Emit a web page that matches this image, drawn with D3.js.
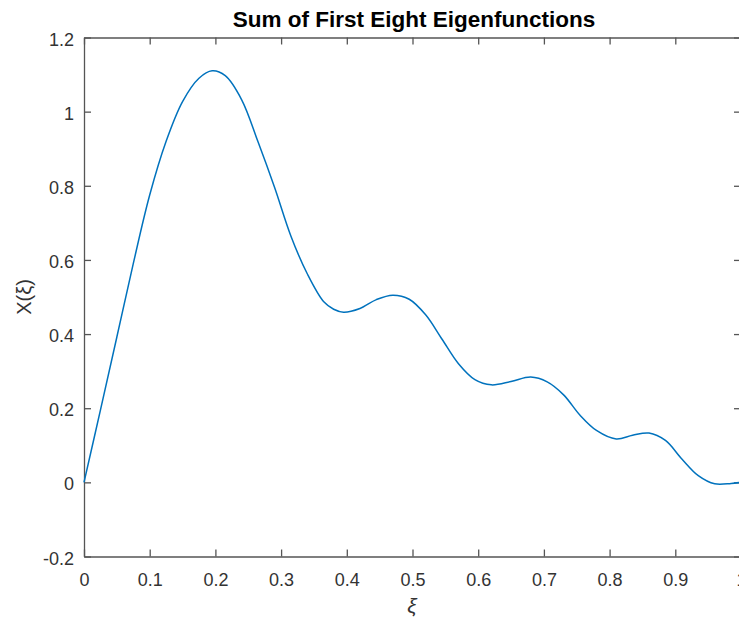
<!DOCTYPE html>
<html>
<head>
<meta charset="utf-8">
<script src="https://cdn.jsdelivr.net/npm/d3@7"></script>
<style>
  html, body { margin: 0; padding: 0; background: #fff; }
  svg { display: block; font-family: "Liberation Sans", Arial, sans-serif; }
</style>
</head>
<body>
<svg id="chart" width="739" height="623"></svg>
<script>
// values
const xiValues = [0, 0.025, 0.05, 0.075, 0.1, 0.125, 0.15, 0.175, 0.195, 0.215, 0.24, 0.265, 0.29, 0.315, 0.34,
  0.365, 0.38, 0.395, 0.42, 0.445, 0.47, 0.495, 0.52, 0.545, 0.57, 0.595, 0.62, 0.65, 0.68, 0.705, 0.73,
  0.755, 0.78, 0.81, 0.835, 0.86, 0.885, 0.91, 0.935, 0.96, 0.985, 1.0];
const xValues = [0, 0.195, 0.392, 0.59, 0.775, 0.92, 1.027, 1.09, 1.11, 1.097, 1.032, 0.918, 0.796, 0.664, 0.562,
  0.487, 0.467, 0.459, 0.469, 0.493, 0.505, 0.494, 0.452, 0.386, 0.32, 0.277, 0.263, 0.272, 0.284, 0.271, 0.236,
  0.181, 0.14, 0.117, 0.127, 0.133, 0.113, 0.063, 0.018, -0.004, -0.003, 0];
const xTicks = [0, 0.1, 0.2, 0.3, 0.4, 0.5, 0.6, 0.7, 0.8, 0.9, 1];
const yTicks = [-0.2, 0, 0.2, 0.4, 0.6, 0.8, 1, 1.2];

const svg = d3.select("#chart");
const plotLeft = 84, plotRight = 741, plotTop = 37.5, plotBottom = 556.5;
const axisColor = "#555";
const textColor = "#333";

const x = d3.scaleLinear().domain([0, 1]).range([plotLeft, plotRight]);
const y = d3.scaleLinear().domain([-0.2, 1.2]).range([plotBottom, plotTop]);

const fmt = d => (d === 0 ? "0" : String(+d.toFixed(1)));

// axes with inward ticks, box on all four sides
const gx = svg.append("g").attr("transform", `translate(0,${plotBottom})`)
  .call(d3.axisBottom(x).tickValues(xTicks).tickSizeInner(-7).tickSizeOuter(0).tickPadding(17).tickFormat(fmt));
const gxTop = svg.append("g").attr("transform", `translate(0,${plotTop})`)
  .call(d3.axisTop(x).tickValues(xTicks).tickSizeInner(-7).tickSizeOuter(0).tickFormat(""));
const gy = svg.append("g").attr("transform", `translate(${plotLeft},0)`)
  .call(d3.axisLeft(y).tickValues(yTicks).tickSizeInner(-7).tickSizeOuter(0).tickPadding(10).tickFormat(fmt));
const gyRight = svg.append("g").attr("transform", `translate(${plotRight},0)`)
  .call(d3.axisRight(y).tickValues(yTicks).tickSizeInner(-7).tickSizeOuter(0).tickFormat(""));

[gx, gxTop, gy, gyRight].forEach(g => {
  g.select(".domain").attr("stroke", axisColor).attr("stroke-width", 1.3);
  g.selectAll(".tick line").attr("stroke", axisColor).attr("stroke-width", 1.3);
  g.selectAll(".tick text").attr("fill", textColor).style("font-size", "18px")
    .style("font-family", "'Liberation Sans', Arial, sans-serif");
});
gy.selectAll(".tick text").attr("dy", "0.42em");

// curve
const pts = xiValues.map((v, i) => [v, xValues[i]]);
svg.append("path")
  .datum(pts)
  .attr("fill", "none")
  .attr("stroke", "#0072BD")
  .attr("stroke-width", 1.5)
  .attr("d", d3.line().x(d => x(d[0])).y(d => y(d[1])).curve(d3.curveCatmullRom.alpha(0.5)));

// title and labels
svg.append("text")
  .attr("x", 414).attr("y", 27)
  .attr("text-anchor", "middle")
  .attr("fill", "#000")
  .style("font-size", "22.5px").style("font-weight", "bold")
  .text("Sum of First Eight Eigenfunctions");

svg.append("text")
  .attr("x", 412).attr("y", 613)
  .attr("text-anchor", "middle")
  .attr("fill", textColor)
  .style("font-size", "21px").style("font-style", "italic")
  .text("ξ");

svg.append("text")
  .attr("transform", "translate(31,297) rotate(-90)")
  .attr("text-anchor", "middle")
  .attr("fill", textColor)
  .style("font-size", "20px")
  .text("X(ξ)");
</script>
</body>
</html>
